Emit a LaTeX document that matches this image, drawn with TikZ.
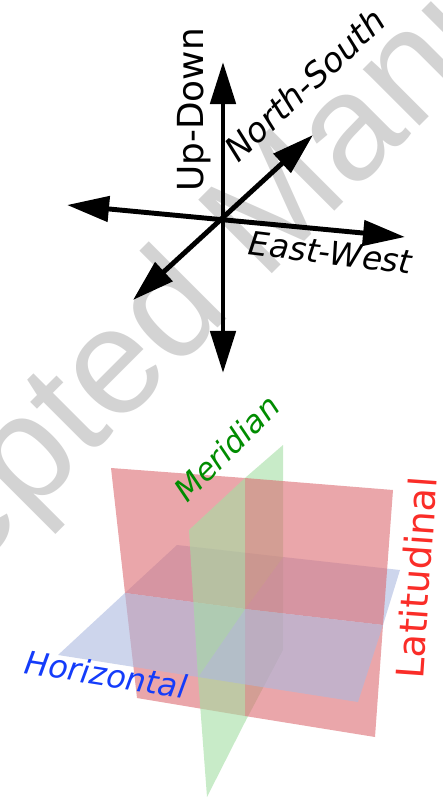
\documentclass[tikz,border=0pt]{standalone}
\usepackage{fontspec}
\setmainfont{DejaVu Sans}
\newfontfamily\wmfont{Liberation Sans}
\usetikzlibrary{arrows.meta}
\definecolor{wmgray}{RGB}{211,211,211}
\definecolor{latred}{RGB}{220,107,113}
\definecolor{merigreen}{RGB}{163,222,163}
\definecolor{horblue}{RGB}{172,185,223}
\definecolor{latlabel}{RGB}{250,45,40}
\definecolor{merilabel}{RGB}{0,140,0}
\definecolor{horlabel}{RGB}{20,60,250}
\tikzset{
  dirarrow/.style={line width=1.4pt,
    {Triangle[length=4.2mm,width=2.5mm]}-{Triangle[length=4.2mm,width=2.5mm]}},
  lab/.style={inner sep=0pt, anchor=base west},
  plane/.style={fill=#1, fill opacity=0.6},
}

\begin{document}
\begin{tikzpicture}[x=0.01cm, y=-0.01cm]
\useasboundingbox (0,0) rectangle (442,803);
% watermark
\node[lab, rotate=45, text=wmgray, font=\wmfont\fontsize{43}{43}\selectfont] (wmark) at (-212,758) {Accepted Manuscript};

% directions
\coordinate (c) at (223,219);
\coordinate (up) at (223,62);
\coordinate (dn) at (223,373);
\coordinate (we) at (67,205);
\coordinate (ea) at (405,237);
\coordinate (ne) at (313,135);
\coordinate (sw) at (133,300);
\draw[dirarrow] (dn) -- (up);
\draw[dirarrow] (we) -- (ea);
\draw[dirarrow] (sw) -- (ne);
\node[inner sep=0pt, anchor=base, rotate=90, font=\fontsize{10.2}{12}\selectfont] (updown) at (203,110) {Up-Down};
\node[lab, rotate=43, font=\itshape\fontsize{9.6}{11}\selectfont] (nslab) at (238,164) {North-South};
\node[lab, rotate=-7, font=\itshape\fontsize{9.3}{11}\selectfont] (ewlab) at (247,254) {East-West};

% planes
\coordinate (O) at (245,609);
\coordinate (R1) at (111,468);
\coordinate (R2) at (393,490);
\coordinate (R3) at (375,737);
\coordinate (R4) at (137,698);
\coordinate (Rt) at (245,478);
\coordinate (Rb) at (245,716);
\coordinate (Rl) at (125,593);
\coordinate (Rr) at (383,625);
\coordinate (B1) at (58,655);
\coordinate (B2) at (177,545);
\coordinate (B3) at (400,570);
\coordinate (B4) at (358,702);
\coordinate (Bf) at (198,677);
\coordinate (Bb) at (283,557);
\coordinate (G1) at (189,530);
\coordinate (G2) at (283,445);
\coordinate (G3) at (283,650);
\coordinate (G4) at (207,797);
\coordinate (Gb) at (245,722);
% back pieces first
\fill[plane=latred] (Rl) -- (O) -- (Rb) -- (R4) -- cycle;
\fill[plane=horblue] (Rl) -- (B2) -- (Bb) -- (O) -- cycle;
\fill[plane=merigreen] (O) -- (Bb) -- (G3) -- (Gb) -- cycle;
\fill[plane=latred] (R1) -- (Rt) -- (O) -- (Rl) -- cycle;
\fill[plane=latred] (O) -- (Rr) -- (R3) -- (Rb) -- cycle;
\fill[plane=horblue] (B1) -- (Rl) -- (O) -- (Bf) -- cycle;
\fill[plane=horblue] (O) -- (Bb) -- (B3) -- (Rr) -- cycle;
\fill[plane=merigreen] (Rt) -- (G2) -- (Bb) -- (O) -- cycle;
\fill[plane=merigreen] (Bf) -- (O) -- (Gb) -- (G4) -- cycle;
% front pieces
\fill[plane=latred] (Rt) -- (R2) -- (Rr) -- (O) -- cycle;
\fill[plane=horblue] (Bf) -- (O) -- (Rr) -- (B4) -- cycle;
\fill[plane=merigreen] (G1) -- (Rt) -- (O) -- (Bf) -- cycle;

\node[lab, rotate=45, text=merilabel, font=\itshape\fontsize{8.8}{10}\selectfont] (merlab) at (187,504) {Meridian};
\node[lab, rotate=-9, text=horlabel, font=\itshape\fontsize{9.1}{10}\selectfont] (horlab) at (23,673) {Horizontal};
\node[lab, rotate=86, text=latlabel, font=\fontsize{10.8}{12}\selectfont] (latlab) at (423,680) {Latitudinal};
\end{tikzpicture}
\end{document}
